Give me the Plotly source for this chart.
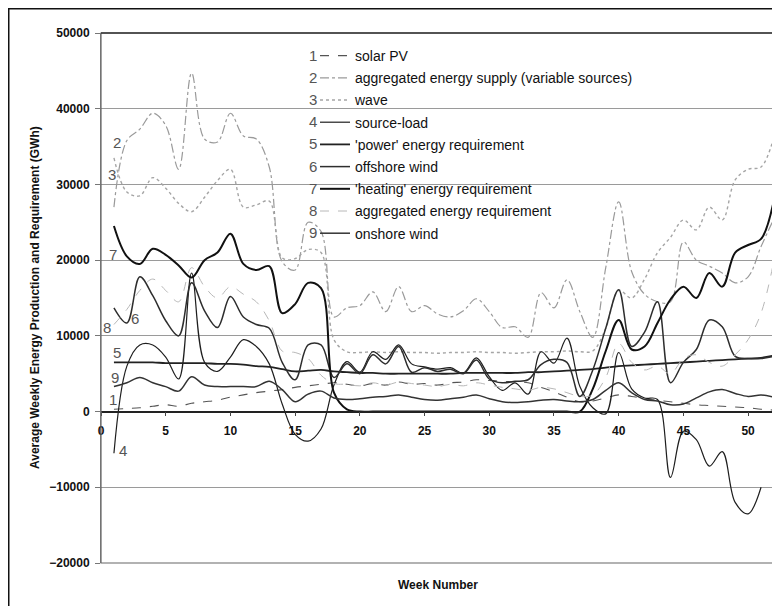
import plotly.graph_objects as go

weeks = list(range(1, 53))

solar_pv = [300, 400, 500, 700, 900, 700, 1100, 1300, 1500, 1900, 2200, 2500, 2700,
            2900, 3200, 3400, 3600, 3800, 3600, 3400, 3700, 3500, 3900, 3600, 3700, 3500,
            3800, 3900, 4200, 4100, 4000, 3900, 3800, 3200, 2600, 1900, 1300, 1400, 1800,
            2200, 2000, 1700, 1500, 1300, 1100, 900, 800, 700, 600, 500, 300, 200]

agg_supply = [27000, 35800, 37300, 39400, 37800, 32000, 44700, 36000, 35600, 39400, 36400,
              36000, 32300, 19800, 18700, 25000, 23800, 12500, 13700, 14000, 15800, 13200,
              16500, 13200, 14000, 12900, 12500, 13300, 14900, 13200, 11100, 11200, 9800,
              15700, 13700, 17400, 13200, 9800, 19000, 27700, 18500, 15500, 14500, 14500,
              22400, 20000, 19200, 18300, 17000, 17800, 21800, 25500]

wave = [33500, 29000, 28500, 30900, 29500, 27500, 26400, 28300, 30500, 32000, 27000, 27300,
        27800, 20300, 20200, 21400, 21000, 9500, 7900, 7800, 7900, 7800, 7900, 7800, 7800,
        7700, 7800, 7800, 7900, 7800, 7800, 7700, 7800, 7900, 7900, 8000, 7900, 8000, 11000,
        16000, 15000, 17500, 21000, 23000, 25300, 24000, 27000, 25300, 30600, 32000, 32300,
        36300]

source_load = [-5500, 6000, 8800, 8800, 7200, 4300, 18300, 6500, 5300, 7200, 9500, 8600, 6300,
               1000, -3000, -3900, -2300, 3500, 6600, 5200, 7900, 6900, 8800, 6300, 5900, 5600,
               5800, 5100, 7100, 4600, 2800, 3800, 2300, 7900, 6400, 9700, 3300, 500, -300,
               7800, 3000, 1800, 1600, -8700, -2600, -3700, -7200, -5300, -12000, -13500,
               -10000]

power_req = [6500, 6500, 6500, 6500, 6400, 6400, 6400, 6400, 6300, 6300, 6200, 6000, 5900,
             5600, 5300, 5400, 5500, 5300, 5200, 5100, 5100, 5000, 5000, 5000, 5000, 5000,
             5000, 5100, 5100, 5100, 5100, 5100, 5200, 5200, 5300, 5400, 5500, 5600, 5800,
             6000, 6100, 6200, 6300, 6400, 6500, 6600, 6700, 6800, 6900, 7000, 7100, 7400]

offshore_wind = [13700, 11700, 17800, 15300, 12000, 10000, 17000, 13300, 11100, 15200, 12500,
                 11500, 11000, 6500, 4200, 8800, 8800, 4500, 6300, 5000, 7500, 6300, 8600,
                 5200, 5800, 5300, 5600, 5000, 6800, 4300, 3800, 4000, 4200, 6200, 6900, 6500,
                 2000, 5500, 11000, 16100, 8600, 10500, 14500, 3800, 6500, 8200, 12100, 11200,
                 7300, 7000, 7000, 7300]

heating_req = [24500, 20500, 19500, 21500, 20700, 19300, 17700, 20000, 21000, 23500, 19500,
               18700, 19200, 13000, 14200, 17000, 16300, 2500, 300, 0, 0, 0, 0, 0, 0, 0, 0, 0,
               0, 0, 0, 0, 0, 0, 0, 0, 0, 3000, 8000, 12100, 8200, 8600, 11700, 14800, 16500,
               15000, 18300, 16500, 21000, 22000, 22800, 28000]

agg_req = [11500, 13500, 16000, 17500, 16000, 14500, 19000, 16500, 15000, 16500, 15500, 14500,
           12000, 8000, 7800, 7000, 4800, 3700, 3600, 3400, 3800, 3500, 3900, 3700, 3500, 3300,
           3600, 3400, 3800, 3500, 3200, 3000, 2800, 3200, 3000, 2500, 2000, 2200, 4500, 9000,
           6500, 5500, 6000, 5000, 7000, 7500, 6500, 6000, 7500, 9500, 13000, 20000]

onshore_wind = [3300, 3800, 4500, 3800, 3300, 2700, 4600, 3500, 3300, 3300, 3300, 3300, 4000,
                2900, 1300, 2300, 2700, 1800, 1600, 1700, 1900, 2000, 2200, 1900, 1600, 1500,
                1700, 1900, 2200, 1700, 1300, 1200, 1300, 1500, 1600, 1400, 1300, 1600, 2800,
                3800, 2500, 1600, 1400, 900, 1000, 1800, 2600, 2900, 2400, 2000, 2200, 1900]

series = [
    ("1", "solar PV", solar_pv, "#555555", "dash", 1.1),
    ("2", "aggregated energy supply (variable sources)", agg_supply, "#9a9a9a", "dashdot", 1.2),
    ("3", "wave", wave, "#a5a5a5", "dot", 1.4),
    ("4", "source-load", source_load, "#1e1e1e", "solid", 1.2),
    ("5", "'power' energy requirement", power_req, "#222222", "solid", 1.8),
    ("6", "offshore wind", offshore_wind, "#2e2e2e", "solid", 1.5),
    ("7", "'heating' energy requirement", heating_req, "#111111", "solid", 2.0),
    ("8", "aggregated energy requirement", agg_req, "#b8b8b8", "dash", 1.0),
    ("9", "onshore wind", onshore_wind, "#333333", "solid", 1.5),
]

label_pos = {"2": (1.24, 35600), "3": (0.85, 31300), "7": (0.93, 20700), "8": (0.46, 11100),
             "6": (2.6, 12300), "5": (1.24, 7800), "9": (1.1, 4500), "1": (0.93, 1600),
             "4": (1.7, -5100)}

FONT = "Liberation Sans, Arial, sans-serif"

fig = go.Figure()
for num, name, vals, color, dash, width in series:
    xs = weeks[:len(vals)]
    fig.add_trace(go.Scatter(x=xs, y=vals, mode="lines", name=name, legendgroup=num,
                             line=dict(color=color, dash=dash, width=width,
                                       shape="spline", smoothing=1.0)))

# the page draws the figure 8px in from the window edge
OFF = 8
W, H = 780 - OFF, 606 - OFF
# plot geometry in window pixels
L, R, T, B = 101 - OFF, 774 - OFF, 33 - OFF, 563 - OFF
pw, ph = R - L, B - T

def px2paper_x(px):
    return (px - OFF - L) / pw

def py2paper_y(py):
    return (B - (py - OFF)) / ph

annotations = []
for num, (x, y) in label_pos.items():
    annotations.append(dict(x=x, y=y, xref="x", yref="y", text=num, showarrow=False,
                            font=dict(family=FONT, size=15, color="#555555")))

# legend numbers
LEG_TOP, LEG_STEP = 55, 22.2
for i, (num, name, vals, color, dash, width) in enumerate(series):
    annotations.append(dict(x=px2paper_x(319), y=py2paper_y(LEG_TOP + i * LEG_STEP),
                            xref="paper", yref="paper", text=num, showarrow=False,
                            xanchor="right", yanchor="middle",
                            font=dict(family=FONT, size=15, color="#555555")))

annotations.append(dict(x=0.5, y=py2paper_y(585), xref="paper", yref="paper",
                        text="Week Number", showarrow=False, yanchor="middle",
                        font=dict(family=FONT, size=12, color="#111111", weight="bold")))
annotations.append(dict(x=px2paper_x(35), y=0.5, xref="paper", yref="paper",
                        text="Average Weekly Energy Production and Requirement (GWh)",
                        textangle=-90, showarrow=False, xanchor="center", yanchor="middle",
                        font=dict(family=FONT, size=12, color="#111111", weight="bold")))

shapes = [
    dict(type="rect", xref="paper", yref="paper", x0=0, x1=1, y0=0, y1=1,
         line=dict(color="#666666", width=1.2), layer="above"),
    dict(type="line", xref="paper", yref="paper", x0=0, x1=1, y0=1, y1=1,
         line=dict(color="#333333", width=1.5), layer="above"),
    # outer frame (left and top edges visible)
    dict(type="line", xref="paper", yref="paper",
         x0=px2paper_x(8.5), x1=px2paper_x(8.5), y0=py2paper_y(620), y1=py2paper_y(8),
         line=dict(color="#111111", width=2)),
    dict(type="line", xref="paper", yref="paper",
         x0=px2paper_x(8), x1=px2paper_x(800), y0=py2paper_y(8.5), y1=py2paper_y(8.5),
         line=dict(color="#111111", width=2)),
]

fig.update_layout(
    width=W, height=H,
    margin=dict(l=L, r=W - R, t=T, b=H - B, autoexpand=False),
    paper_bgcolor="white", plot_bgcolor="white",
    annotations=annotations, shapes=shapes,
    showlegend=True,
    legend=dict(x=px2paper_x(315), y=py2paper_y(40), xanchor="left", yanchor="top",
                bgcolor="rgba(0,0,0,0)", borderwidth=0, itemwidth=30, tracegroupgap=1,
                font=dict(family=FONT, size=14, color="#111111")),
    xaxis=dict(range=[0, 52], tickmode="array", tickvals=list(range(0, 51, 5)),
               showgrid=False, zeroline=False, showline=True, linecolor="#222222",
               linewidth=1.5, anchor="free", position=20000 / 70000,
               ticks="outside", ticklen=4, tickcolor="#444444", ticklabelstandoff=4,
               tickfont=dict(family=FONT, size=12, color="#111111", weight="bold")),
    yaxis=dict(range=[-20000, 50000], tickmode="array",
               tickvals=list(range(-20000, 50001, 10000)), tickformat="d",
               showgrid=True, gridcolor="#9a9a9a", gridwidth=1, zeroline=False,
               showline=True, linecolor="#888888", ticks="outside", ticklen=5,
               tickcolor="#777777", ticklabelstandoff=3,
               tickfont=dict(family=FONT, size=12, color="#111111", weight="bold")),
)

fig.write_html("out.html")
